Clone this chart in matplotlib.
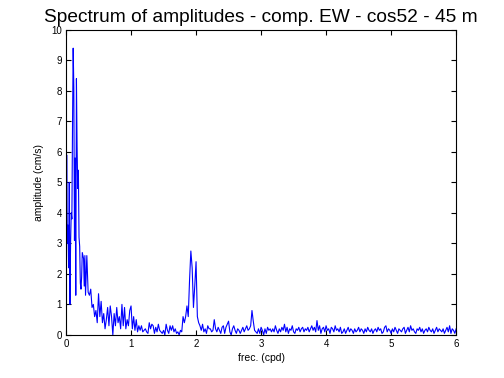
import numpy as np
import matplotlib
matplotlib.use("Agg")
import matplotlib.pyplot as plt

plt.rcParams['font.family'] = ['Liberation Sans', 'DejaVu Sans']

# amplitudes, 0.00 - 0.30 cpd, step 0.01
amp_low = [1.0, 5.9, 3.0, 3.6, 2.2, 5.0, 1.0, 3.0, 4.0, 3.8,
           6.9, 9.4, 8.1, 3.1, 5.8, 1.3, 8.4, 6.2, 4.8, 5.4,
           3.2, 2.9, 1.7, 1.5, 1.9, 2.7, 2.6, 2.5, 1.6, 2.6,
           1.3]
# amplitudes, 0.32 - 6.00 cpd, step 0.02
amp_high = [
    2.6, 1.4, 1.3, 1.5, 0.9, 1.0, 0.6, 0.8, 0.4, 1.35,
    0.6, 1.1, 0.4, 0.7, 0.2, 0.5, 0.9, 0.3, 0.95, 0.6,
    0.0, 0.7, 0.3, 0.9, 0.4, 0.6, 0.2, 1.0, 0.3, 0.9,
    0.2, 0.5, 0.3, 0.8, 0.95, 0.2, 0.6, 0.15, 0.5, 0.1,
    0.3, 0.15, 0.3, 0.1, 0.15, 0.2, 0.1, 0.05, 0.4, 0.2,
    0.35, 0.3, 0.05, 0.25, 0.1, 0.35, 0.15, 0.1, 0.05, 0.15,
    0.0, 0.35, 0.15, 0.05, 0.3, 0.15, 0.3, 0.1, 0.2, 0.05,
    0.1, 0.0, 0.15, 0.1, 0.6, 0.4, 0.6, 0.95, 0.6, 1.8,
    2.75, 2.2, 0.9, 1.6, 2.4, 0.6, 0.4, 0.3, 0.15, 0.35,
    0.1, 0.2, 0.05, 0.3, 0.2, 0.2, 0.1, 0.15, 0.5, 0.2,
    0.1, 0.25, 0.15, 0.05, 0.25, 0.3, 0.05, 0.25, 0.35, 0.45,
    0.1, 0.0, 0.2, 0.3, 0.15, 0.05, 0.2, 0.15, 0.05, 0.15,
    0.25, 0.1, 0.2, 0.3, 0.15, 0.2, 0.3, 0.8, 0.45, 0.15,
    0.1, 0.05, 0.2, 0.05, 0.25, 0.15, 0.0, 0.2, 0.05, 0.25,
    0.15, 0.2, 0.1, 0.2, 0.1, 0.3, 0.15, 0.05, 0.2, 0.1,
    0.25, 0.15, 0.35, 0.1, 0.25, 0.05, 0.2, 0.15, 0.3, 0.1,
    0.05, 0.2, 0.15, 0.25, 0.1, 0.2, 0.25, 0.1, 0.2, 0.15,
    0.25, 0.1, 0.2, 0.3, 0.15, 0.25, 0.1, 0.47, 0.15, 0.3,
    0.05, 0.2, 0.25, 0.1, 0.3, 0.15, 0.2, 0.05, 0.25, 0.2,
    0.1, 0.3, 0.15, 0.2, 0.1, 0.25, 0.05, 0.1, 0.2, 0.05,
    0.15, 0.25, 0.1, 0.2, 0.15, 0.05, 0.2, 0.1, 0.15, 0.25,
    0.1, 0.2, 0.15, 0.05, 0.2, 0.1, 0.25, 0.15, 0.1, 0.2,
    0.05, 0.15, 0.2, 0.1, 0.25, 0.15, 0.2, 0.05, 0.1, 0.25,
    0.3, 0.1, 0.2, 0.15, 0.05, 0.2, 0.1, 0.25, 0.15, 0.05,
    0.2, 0.15, 0.1, 0.2, 0.25, 0.05, 0.15, 0.25, 0.1, 0.3,
    0.15, 0.2, 0.1, 0.05, 0.2, 0.15, 0.25, 0.1, 0.2, 0.05,
    0.15, 0.2, 0.1, 0.25, 0.15, 0.1, 0.2, 0.05, 0.15, 0.25,
    0.1, 0.2, 0.15, 0.1, 0.2, 0.05, 0.15, 0.25, 0.1, 0.3,
    0.05, 0.2, 0.15, 0.05, 0.2]

freq_low = 0.01 * np.arange(len(amp_low))
freq_high = 0.32 + 0.02 * np.arange(len(amp_high))
freq = np.concatenate([freq_low, freq_high])
amp = np.concatenate([amp_low, amp_high])

x_ticks = [0, 1, 2, 3, 4, 5, 6]
y_ticks = [0, 1, 2, 3, 4, 5, 6, 7, 8, 9, 10]

fig = plt.figure(figsize=(5.04, 3.78), dpi=100)
ax = fig.add_axes([0.131, 0.114, 0.774, 0.807])
ax.plot(freq, amp, color=(0, 0, 1), lw=0.8)
ax.set_xlim(0, 6)
ax.set_ylim(0, 10)
ax.set_xticks(x_ticks)
ax.set_yticks(y_ticks)
ax.tick_params(direction='in', top=True, right=True, length=3.5, width=0.8,
               labelsize=7, pad=3)
for s in ax.spines.values():
    s.set_linewidth(0.8)
ax.set_title('Spectrum of amplitudes - comp. EW - cos52 - 45 m', fontsize=13.8, pad=6)
ax.set_xlabel('frec. (cpd)', fontsize=7.5, labelpad=3)
ax.set_ylabel('amplitude (cm/s)', fontsize=7.5, labelpad=5)
fig.savefig('out.png', dpi=100)
